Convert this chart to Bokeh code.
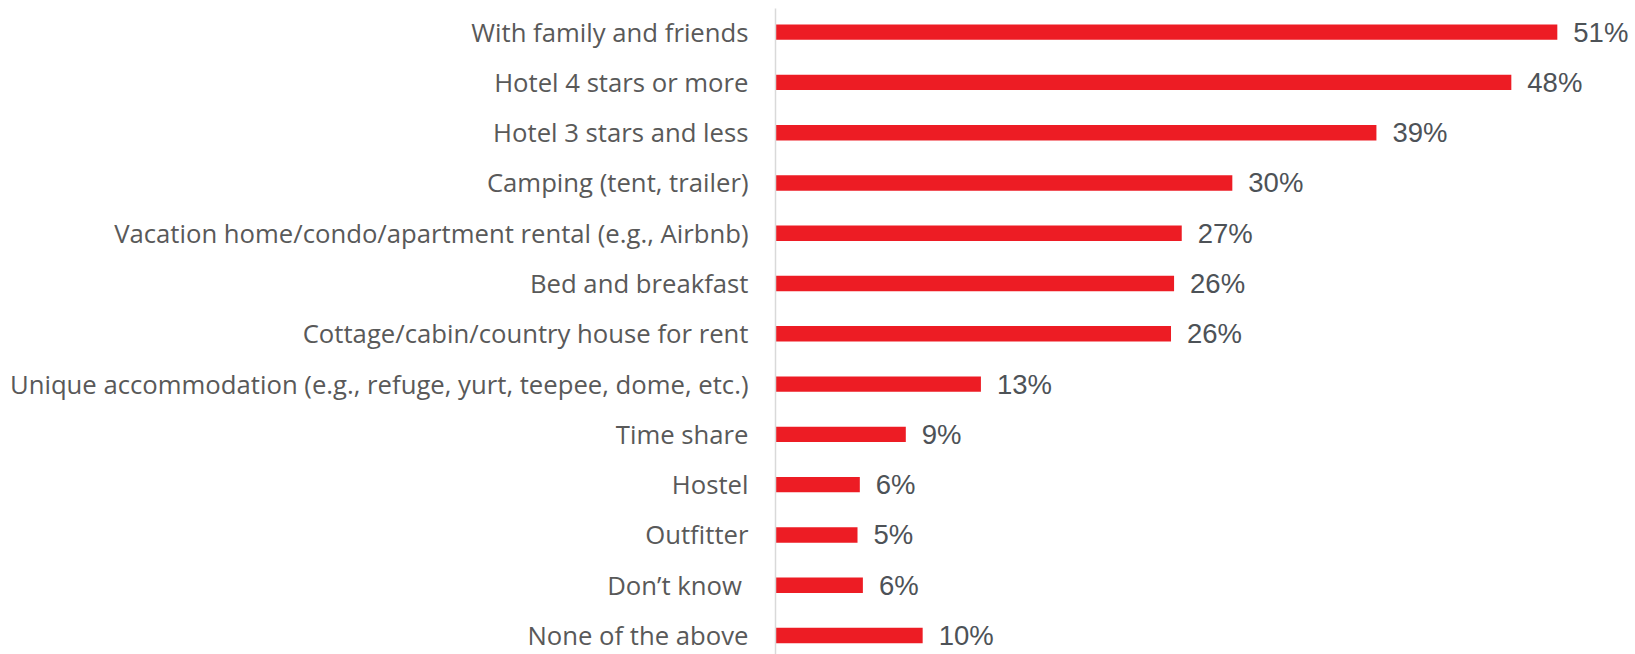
from bokeh.plotting import figure
from bokeh.models import Range1d, FixedTicker, ColumnDataSource
from bokeh.core.properties import value
from bokeh.embed import file_html
from bokeh.resources import INLINE

categories = [
    "With family and friends",
    "Hotel 4 stars or more",
    "Hotel 3 stars and less",
    "Camping (tent, trailer)",
    "Vacation home/condo/apartment rental (e.g., Airbnb)",
    "Bed and breakfast",
    "Cottage/cabin/country house for rent",
    "Unique accommodation (e.g., refuge, yurt, teepee, dome, etc.)",
    "Time share",
    "Hostel",
    "Outfitter",
    "Don\u2019t know ",
    "None of the above",
]
values = [51.0, 48.0, 39.2, 29.8, 26.5, 26.0, 25.8, 13.4, 8.5, 5.5, 5.35, 5.7, 9.6]
value_labels = ["51%", "48%", "39%", "30%", "27%", "26%", "26%", "13%", "9%", "6%", "5%", "6%", "10%"]

n = len(categories)
pos = [n - 1 - i for i in range(n)]

src = ColumnDataSource(dict(cat=categories, val=values, lab=value_labels, y=pos))

p = figure(width=1635, height=654, output_backend="svg", toolbar_location=None,
           x_range=Range1d(0, 56.1), y_range=Range1d(-0.378, 12.47))
p.min_border_left = 775
p.min_border_right = 0
p.min_border_top = 8
p.min_border_bottom = 0
p.outline_line_color = None
p.background_fill_color = "white"
p.border_fill_color = "white"

p.hbar(y="y", right="val", left=0, height=0.306, source=src,
       fill_color="#ED1C24", line_color=None)

p.text(x="val", y="y", text="lab", source=src, x_offset=16,
       text_baseline="middle", text_align="left",
       text_font=value("Liberation Sans"), text_font_size="27.5px",
       text_color="#4d5257")

p.xaxis.visible = False
p.xgrid.visible = False
p.ygrid.visible = False

ya = p.yaxis[0]
ya.ticker = FixedTicker(ticks=pos)
ya.major_label_overrides = {pp: c for pp, c in zip(pos, categories)}
ya.major_tick_line_color = None
ya.minor_tick_line_color = None
ya.axis_line_color = "#d9d9d9"
ya.axis_line_width = 1.5
ya.major_label_standoff = 21
ya.major_label_text_font = "Open Sans"
ya.major_label_text_font_size = "25.7px"
ya.major_label_text_color = "#595959"

open("out.html", "w").write(file_html(p, INLINE))
